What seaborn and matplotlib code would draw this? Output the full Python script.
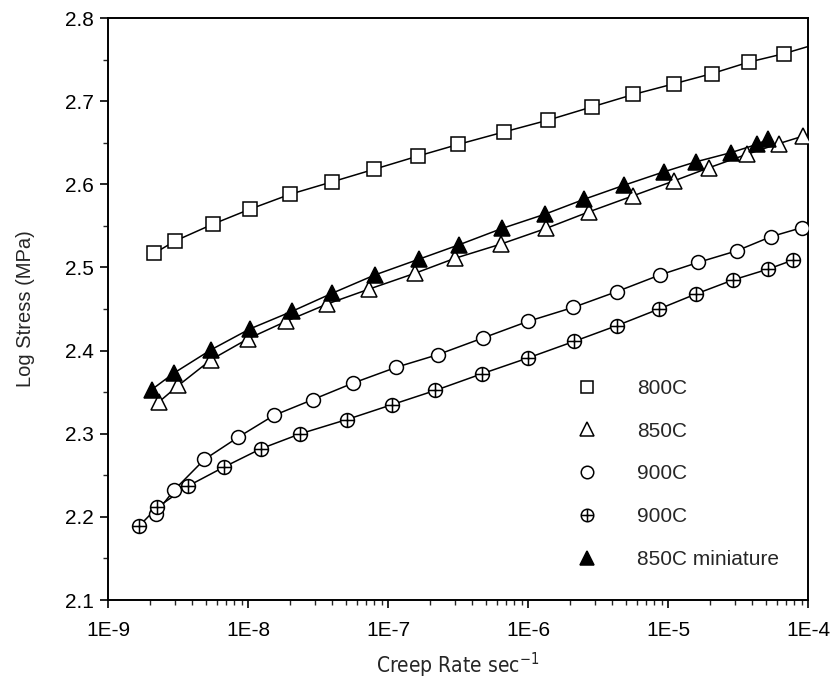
import numpy as np
import pandas as pd
import matplotlib
matplotlib.use("Agg")
import matplotlib.pyplot as plt
import seaborn as sns
from matplotlib.path import Path
from matplotlib.lines import Line2D
from matplotlib.ticker import LogLocator, NullFormatter, MultipleLocator, FormatStrFormatter

# ---------------- data (creep rate [1/s], log stress [MPa]) ----------------
rate_800 = [2.14e-9, 3.03e-9, 5.60e-9, 1.03e-8, 2.00e-8, 4.00e-8, 7.94e-8, 1.64e-7, 3.18e-7,
            6.75e-7, 1.38e-6, 2.85e-6, 5.65e-6, 1.11e-5, 2.05e-5, 3.79e-5, 6.70e-5]
stress_800 = [2.517, 2.532, 2.552, 2.570, 2.588, 2.603, 2.618, 2.634, 2.648,
              2.663, 2.677, 2.693, 2.708, 2.721, 2.733, 2.747, 2.757]

rate_850 = [2.32e-9, 3.18e-9, 5.45e-9, 9.95e-9, 1.86e-8, 3.68e-8, 7.35e-8, 1.56e-7, 3.01e-7,
            6.38e-7, 1.35e-6, 2.74e-6, 5.60e-6, 1.10e-5, 1.97e-5, 3.65e-5, 6.21e-5, 9.25e-5]
stress_850 = [2.3385, 2.358, 2.389, 2.414, 2.435, 2.456, 2.474, 2.493, 2.511,
              2.528, 2.547, 2.567, 2.586, 2.604, 2.620, 2.636, 2.649, 2.658]

rate_900a = [2.19e-9, 2.96e-9, 4.88e-9, 8.55e-9, 1.53e-8, 2.90e-8, 5.65e-8, 1.15e-7, 2.26e-7,
             4.74e-7, 9.95e-7, 2.11e-6, 4.32e-6, 8.77e-6, 1.64e-5, 3.10e-5, 5.44e-5, 9.10e-5]
stress_900a = [2.204, 2.232, 2.269, 2.296, 2.322, 2.341, 2.361, 2.380, 2.395,
               2.415, 2.435, 2.452, 2.471, 2.491, 2.506, 2.520, 2.537, 2.548]

rate_900b = [1.67e-9, 2.25e-9, 3.72e-9, 6.75e-9, 1.24e-8, 2.37e-8, 5.07e-8, 1.07e-7, 2.17e-7,
             4.67e-7, 9.95e-7, 2.13e-6, 4.31e-6, 8.63e-6, 1.58e-5, 2.92e-5, 5.20e-5, 7.85e-5]
stress_900b = [2.189, 2.2115, 2.237, 2.260, 2.282, 2.300, 2.317, 2.335, 2.352,
               2.372, 2.391, 2.411, 2.430, 2.450, 2.468, 2.485, 2.498, 2.509]

rate_850m = [2.05e-9, 2.96e-9, 5.45e-9, 1.03e-8, 2.05e-8, 4.00e-8, 8.07e-8, 1.67e-7, 3.19e-7,
             6.55e-7, 1.32e-6, 2.52e-6, 4.88e-6, 9.35e-6, 1.58e-5, 2.81e-5, 4.31e-5, 5.15e-5]
stress_850m = [2.353, 2.373, 2.401, 2.426, 2.447, 2.469, 2.491, 2.510, 2.527,
               2.547, 2.564, 2.582, 2.599, 2.615, 2.627, 2.638, 2.648, 2.654]

labels = ["800C", "850C", "900C", "900C", "850C miniature"]
x_ticks = [1e-9, 1e-8, 1e-7, 1e-6, 1e-5, 1e-4]
x_tick_labels = ["1E-9", "1E-8", "1E-7", "1E-6", "1E-5", "1E-4"]
y_ticks = [2.1, 2.2, 2.3, 2.4, 2.5, 2.6, 2.7, 2.8]

# ---------------- style ----------------
sns.set_theme(style="ticks")
plt.rcParams["font.family"] = ["Liberation Sans", "DejaVu Sans"]

# circle with cross marker
circ = Path.unit_circle()
cross = Path([(-1, 0), (1, 0), (0, -1), (0, 1)],
             [Path.MOVETO, Path.LINETO, Path.MOVETO, Path.LINETO])
oplus = Path.make_compound_path(circ, cross)

fig = plt.figure(figsize=(8.33, 6.92), dpi=100)
ax = fig.add_axes([108 / 833, 1 - 600 / 692, 700 / 833, 582 / 692])

# 800C line extended to the right edge with local fit of the last points
lx = np.log10(rate_800[-4:])
coef = np.polyfit(lx, stress_800[-4:], 1)
x800_line = list(rate_800) + [1e-4]
y800_line = list(stress_800) + [float(np.polyval(coef, -4.0))]

series = [
    (x800_line, y800_line, rate_800, stress_800, "s", "white", 10),
    (rate_850, stress_850, rate_850, stress_850, "^", "white", 11),
    (rate_900a, stress_900a, rate_900a, stress_900a, "o", "white", 10),
    (rate_900b, stress_900b, rate_900b, stress_900b, oplus, "white", 10),
    (rate_850m, stress_850m, rate_850m, stress_850m, "^", "black", 11),
]

for xl, yl, xm, ym, mk, fc, ms in series:
    sns.lineplot(x=xl, y=yl, ax=ax, color="black", lw=1.1, sort=False,
                 estimator=None, zorder=2)
    ax.plot(xm, ym, ls="none", marker=mk, ms=ms, mfc=fc, mec="black",
            mew=1.1, zorder=3)

ax.set_xscale("log")
ax.set_xlim(1e-9, 1e-4)
ax.set_ylim(2.1, 2.8)

ax.set_xticks(x_ticks)
ax.set_xticklabels(x_tick_labels)
ax.xaxis.set_minor_locator(LogLocator(base=10, subs=np.arange(2, 10)))
ax.xaxis.set_minor_formatter(NullFormatter())
ax.set_yticks(y_ticks)
ax.yaxis.set_major_formatter(FormatStrFormatter("%.1f"))
ax.yaxis.set_minor_locator(MultipleLocator(0.05))

ax.tick_params(which="major", direction="out", length=6, width=1.2, colors="black",
               top=False, right=False, labelsize=15, pad=4)
ax.tick_params(axis="x", which="major", pad=9)
ax.tick_params(which="minor", direction="out", length=3.5, width=1.0,
               top=False, right=False)
for sp in ax.spines.values():
    sp.set_visible(True)
    sp.set_linewidth(1.4)
    sp.set_color("black")

ax.set_ylabel("Log Stress (MPa)", fontsize=14.5, labelpad=22)
ax.set_xlabel(r"Creep Rate sec$^{\mathregular{-1}}$", fontsize=15, labelpad=8,
              family=["DejaVu Sans"], fontstretch="condensed")

handles = []
for _, _, _, _, mk, fc, ms in series:
    handles.append(Line2D([], [], ls="none", marker=mk, ms=ms - 1, mfc=fc,
                          mec="black", mew=1.1))
leg = ax.legend(handles, labels, loc="upper left", bbox_to_anchor=(0.67, 0.38),
                frameon=False, fontsize=15, handlelength=1.0, handletextpad=1.9,
                labelspacing=1.14, borderpad=0, borderaxespad=0)

fig.savefig("out.png", dpi=100)
